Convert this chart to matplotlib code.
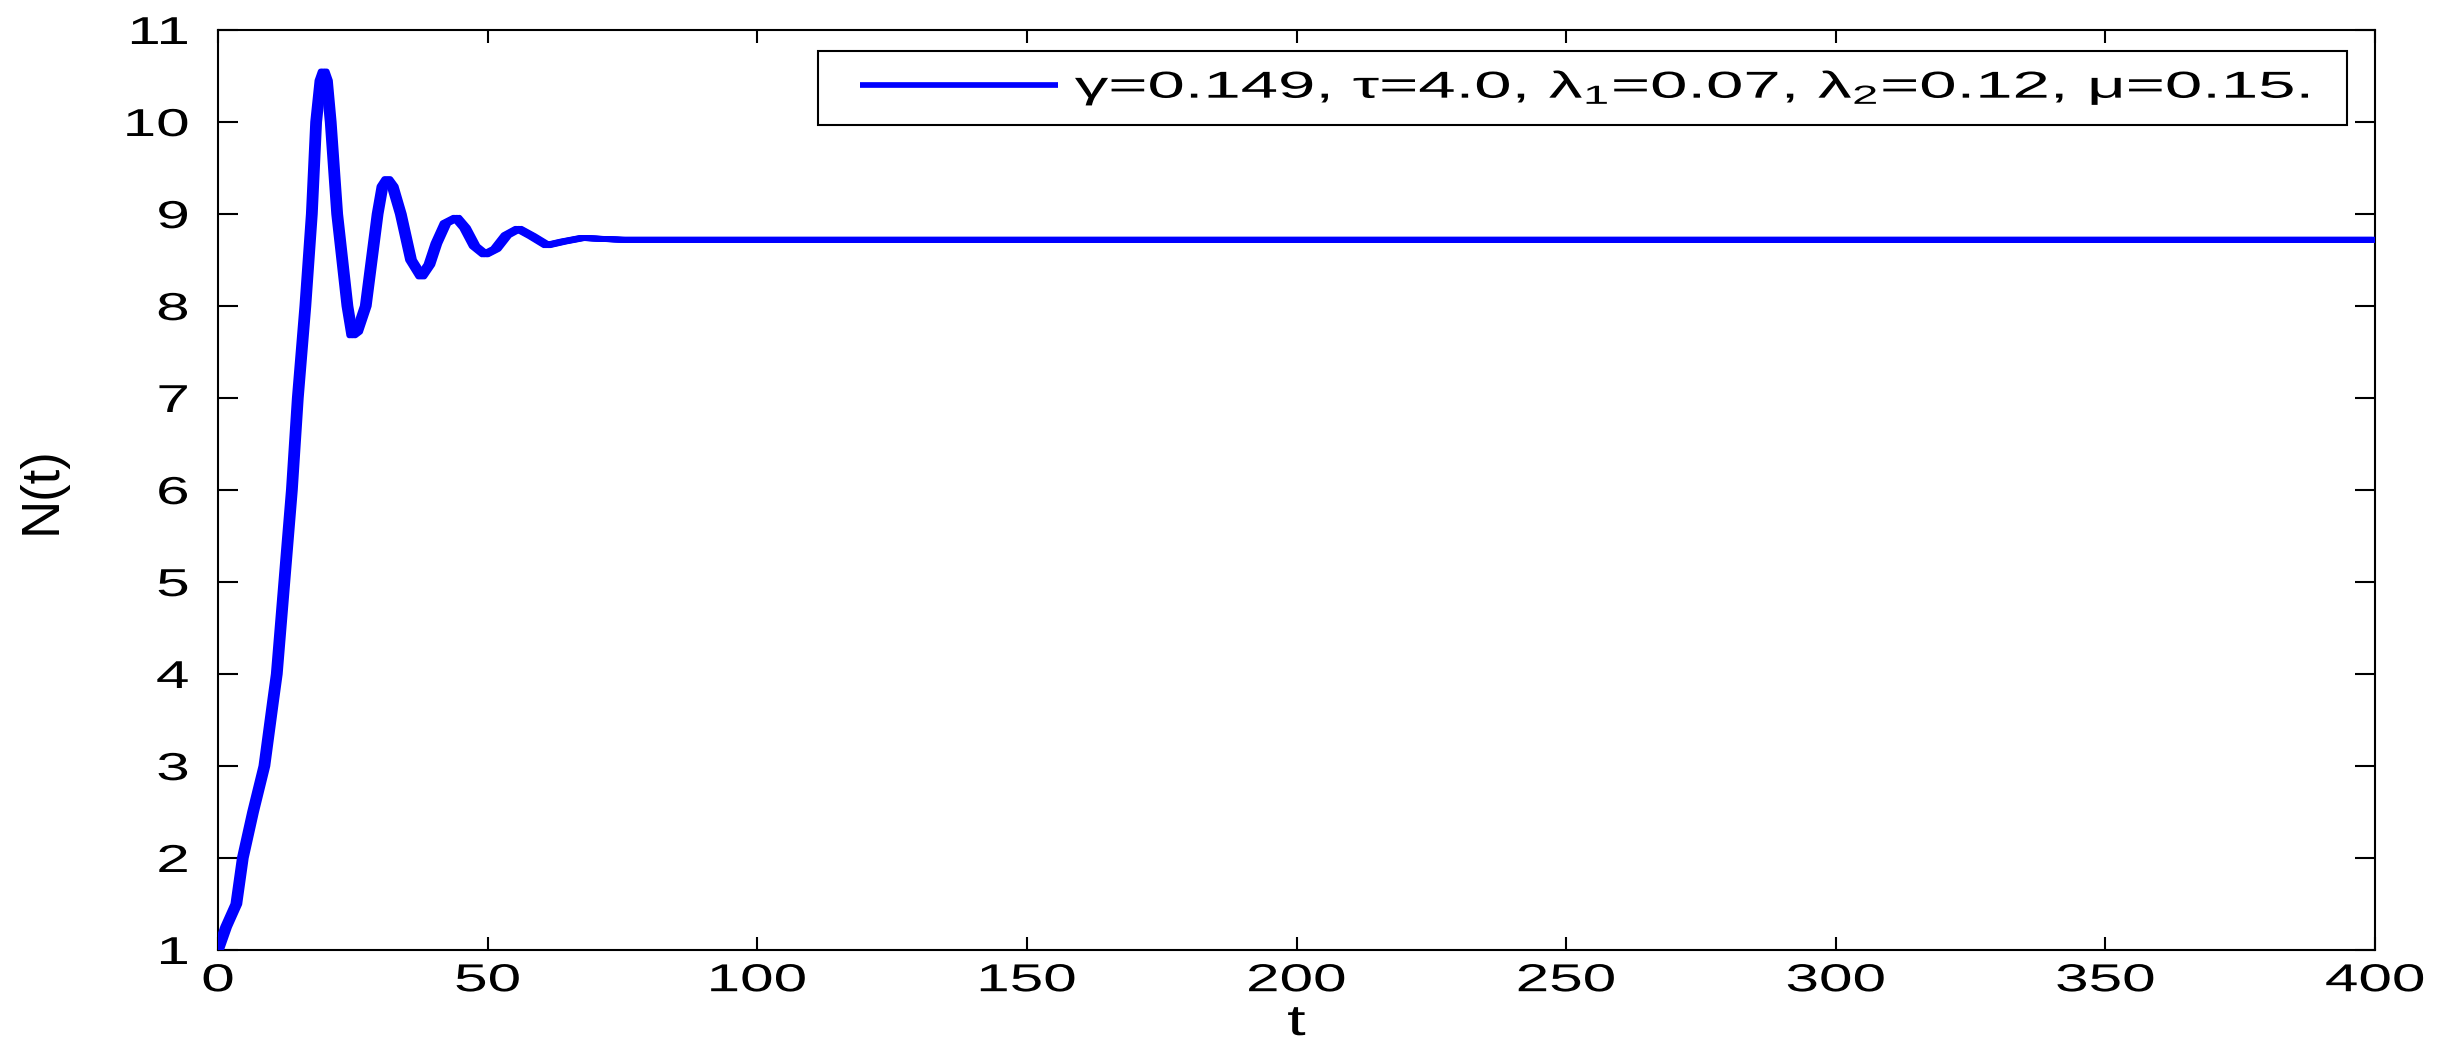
import numpy as np
import matplotlib
matplotlib.use("Agg")
import matplotlib.pyplot as plt
from matplotlib import patheffects as pe
from matplotlib.patheffects import AbstractPathEffect
from matplotlib.transforms import Affine2D
from matplotlib.legend_handler import HandlerLine2D

# ---------------- data ----------------
t_values = [0, 1.5, 3.4, 4.6, 6.5, 8.6, 10.2, 10.9, 12.3, 13.7, 14.8, 16.2, 17.4,
            18.2, 19.0, 19.6, 20.2, 20.9, 22.1, 24.0, 24.9, 25.8, 27.4, 29.6, 30.5,
            31.4, 32.4, 33.9, 35.8, 37.7, 39.2, 40.5, 42.2, 44.2, 45.8, 47.6, 49.5,
            51.5, 53.5, 55.7, 58.2, 61.0, 64.0, 67.6, 71.0, 75.0, 100.0, 400.0]
N_values = [1.0, 1.25, 1.5, 2.0, 2.5, 3.0, 3.7, 4.0, 5.0, 6.0, 7.0, 8.0, 9.0,
            10.0, 10.45, 10.55, 10.45, 10.0, 9.0, 8.0, 7.68, 7.72, 8.0, 9.0, 9.3,
            9.38, 9.3, 9.0, 8.5, 8.32, 8.45, 8.68, 8.9, 8.96, 8.85, 8.65, 8.56,
            8.62, 8.77, 8.84, 8.76, 8.66, 8.70, 8.74, 8.73, 8.72, 8.72, 8.72]
x_ticks = [0, 50, 100, 150, 200, 250, 300, 350, 400]
y_ticks = [1, 2, 3, 4, 5, 6, 7, 8, 9, 10, 11]
legend_label = "γ=0.149, τ=4.0, λ$_\\mathregular{1}$=0.07, λ$_\\mathregular{2}$=0.12, μ=0.15."
x_label = "t"
y_label = "N(t)"

# ---------------- style ----------------
plt.rcParams["font.family"] = ["Liberation Sans", "DejaVu Sans"]
plt.rcParams["mathtext.fontset"] = "custom"
plt.rcParams["mathtext.rm"] = "Liberation Sans"


class HStretch(AbstractPathEffect):
    """Stretch rendered text horizontally (the reference text is wide)."""

    def __init__(self, sx=1.55, anchor="center", target=None):
        super().__init__()
        self.sx = sx
        self.anchor = anchor
        self.target = target

    def draw_path(self, renderer, gc, tpath, affine, rgbFace=None):
        ext = tpath.get_extents(affine)
        if self.anchor == "left":
            cx = ext.x0
        elif self.anchor == "right":
            cx = ext.x1
        else:
            cx = 0.5 * (ext.x0 + ext.x1)
        sx = self.sx
        if self.target is not None and ext.width > 0:
            sx = self.target / ext.width
        new_aff = affine + Affine2D().translate(-cx, 0).scale(sx, 1).translate(cx, 0)
        renderer.draw_path(gc, tpath, new_aff, rgbFace)


class ShiftedLine(HandlerLine2D):
    def __init__(self, shift, **kw):
        super().__init__(**kw)
        self.shift = shift

    def get_xdata(self, legend, xdescent, ydescent, width, height, fontsize):
        xd, xm = super().get_xdata(legend, xdescent, ydescent, width, height, fontsize)
        xd = np.asarray(xd, dtype=float).copy()
        xd[0] += self.shift
        return xd, xm


W, H = 2442, 1054
fig = plt.figure(figsize=(W / 100, H / 100), dpi=100)
fig.patch.set_facecolor("white")
ax_l, ax_r, ax_t, ax_b = 218, 2375, 30, 950
ax = fig.add_axes([ax_l / W, 1 - ax_b / H, (ax_r - ax_l) / W, (ax_b - ax_t) / H])

line, = ax.plot(t_values, N_values, color=(0, 0, 1), lw=4.1,
                solid_joinstyle="round", solid_capstyle="butt", zorder=3)
# horizontally wider pen, as in the (horizontally stretched) reference
line.set_path_effects([pe.Stroke(offset=(-2.2, 0)), pe.Stroke(offset=(2.2, 0)),
                       pe.Stroke(offset=(-1.1, 0)), pe.Stroke(offset=(1.1, 0)),
                       pe.Normal()])

ax.set_xlim(0, 400)
ax.set_ylim(1, 11)
ax.set_xticks(x_ticks)
ax.set_yticks(y_ticks)
ax.set_xticklabels([str(v) for v in x_ticks])
ax.set_yticklabels([str(v) for v in y_ticks])
ax.tick_params(axis="both", which="major", direction="in", top=True, right=True,
               width=1.5, labelsize=28, colors="black")
ax.tick_params(axis="x", length=9.5, pad=9.5)
ax.tick_params(axis="y", length=14.5, pad=21)
for s in ax.spines.values():
    s.set_linewidth(1.5)
    s.set_color("black")

for lab in ax.get_xticklabels():
    lab.set_path_effects([HStretch(1.55, "center")])
for lab in ax.get_yticklabels():
    lab.set_path_effects([HStretch(1.55, "right")])

xl = ax.set_xlabel(x_label, fontsize=31)
ax.xaxis.set_label_coords(0.5, -(1004 - ax_b) / (ax_b - ax_t))
xl.set_path_effects([HStretch(1.55, "center")])
ax.set_ylabel(y_label, fontsize=38, va="center")
ax.yaxis.set_label_coords((42 - ax_l) / (ax_r - ax_l), 0.5)

# legend
fs_leg = 27
fs_px = fs_leg * 100 / 72
leg_l, leg_r, leg_t, leg_b = 818, 2347, 51, 128
pad_px = 0.45 * fs_px
hb_left = leg_l + pad_px
line_l, line_r = 860, 1058
leg = ax.legend([line], [legend_label], loc="upper left",
                bbox_to_anchor=(leg_l / W, 1 - leg_b / H, (leg_r - leg_l) / W, (leg_b - leg_t) / H),
                bbox_transform=fig.transFigure, mode="expand", borderaxespad=0,
                fontsize=fs_leg, frameon=True, fancybox=False, edgecolor="black",
                framealpha=1, borderpad=0.45,
                handlelength=(line_r - hb_left) / fs_px, handletextpad=0.45,
                handler_map={line: ShiftedLine((line_l - hb_left) * 0.72, marker_pad=0)})
leg.get_frame().set_linewidth(1.5)
for lh in leg.get_lines():
    lh.set_path_effects([pe.Normal()])
for txt in leg.get_texts():
    txt.set_path_effects([HStretch(anchor="left", target=1233)])

fig.savefig("out.png", dpi=100, facecolor="white")
